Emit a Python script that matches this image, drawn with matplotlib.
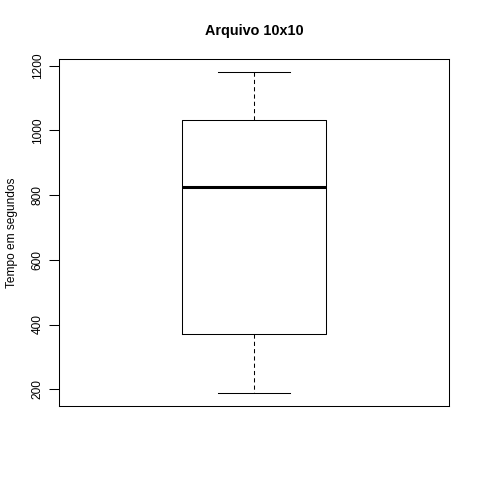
import matplotlib
matplotlib.use("Agg")
import matplotlib.pyplot as plt

plt.rcParams['font.family'] = ['Liberation Sans', 'DejaVu Sans']

title = "Arquivo 10x10"
ylabel = "Tempo em segundos"
whisker_low = 188
q1 = 370
median = 825
q3 = 1033
whisker_high = 1181
yticks = [200, 400, 600, 800, 1000, 1200]

fig = plt.figure(figsize=(4.8, 4.8), dpi=100)
ax = fig.add_axes([59/480, 1-406/480, 390/480, 347/480])

stats = [dict(whislo=whisker_low, q1=q1, med=median, q3=q3, whishi=whisker_high, fliers=[])]
ax.bxp(stats, positions=[1], widths=0.4, showfliers=False,
       boxprops=dict(color='black', linewidth=0.75),
       medianprops=dict(color='black', linewidth=2.2, solid_capstyle='butt'),
       whiskerprops=dict(color='black', linewidth=0.75, linestyle=(0, (4, 3))),
       capprops=dict(color='black', linewidth=0.75), capwidths=0.2)

rng = whisker_high - whisker_low
ax.set_ylim(whisker_low - 0.04*rng, whisker_high + 0.04*rng)
ax.set_xlim(0.46, 1.54)
ax.set_xticks([])
ax.set_yticks(yticks)
ax.set_yticklabels([str(t) for t in yticks], rotation=90, va='center', fontsize=8.6)
ax.tick_params(axis='y', length=7, width=0.75, pad=4)
for s in ax.spines.values():
    s.set_linewidth(0.75)
ax.set_ylabel(ylabel, fontsize=8.6, labelpad=10)
ax.set_title(title, fontsize=10.4, fontweight='bold', pad=17)

fig.savefig("out.png", dpi=100)
